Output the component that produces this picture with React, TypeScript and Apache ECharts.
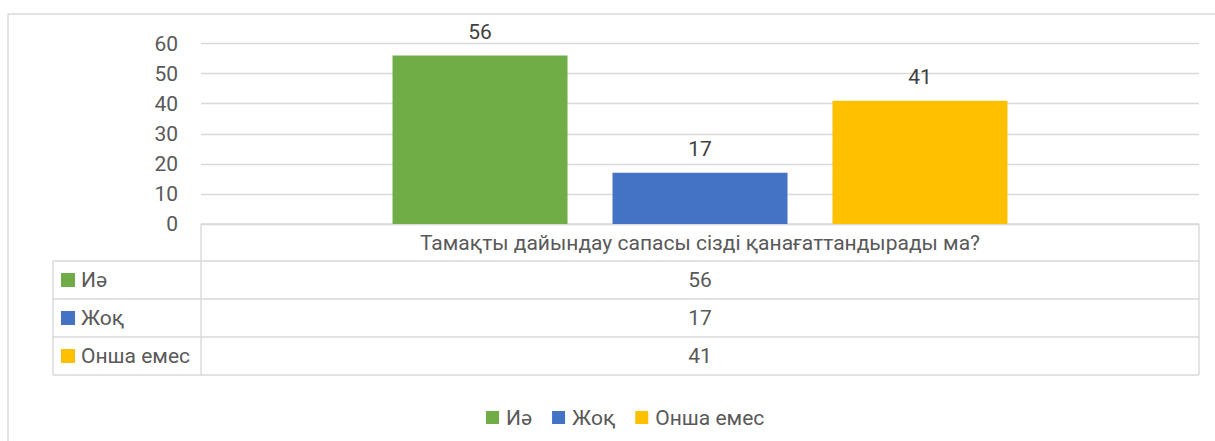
import React, { useEffect, useRef } from "react";
import * as echarts from "echarts";

const question = "Тамақты дайындау сапасы сізді қанағаттандырады ма?";
const seriesNames = ["Иә", "Жоқ", "Онша емес"];
const seriesValues = [56, 17, 41];
const seriesColors = ["#70AD47", "#4472C4", "#FFC000"];
const yTicks = { min: 0, max: 60, interval: 10 };

const FONT = "Roboto, 'Noto Sans', sans-serif";
const GRID_COLOR = "#d9d9d9";
const TEXT = "#595959";
const FS = 21;

export default function App() {
  const ref = useRef<HTMLDivElement>(null);
  useEffect(() => {
    if (!ref.current) return;
    const chart = echarts.init(ref.current, null, { renderer: "svg" });

    const tableLeft = 53;
    const splitX = 201;
    const right = 1199;
    const rowLines = [224, 261, 299, 337, 375];
    const lineStyle = { stroke: GRID_COLOR, lineWidth: 1.4 };

    const graphics: any[] = [
      {
        type: "rect",
        shape: { x: 8, y: 14, width: 1230, height: 460 },
        style: { fill: "none", stroke: GRID_COLOR, lineWidth: 1.4 },
        silent: true,
      },
      { type: "line", shape: { x1: splitX, y1: rowLines[0], x2: right, y2: rowLines[0] }, style: lineStyle },
      { type: "line", shape: { x1: splitX, y1: rowLines[0], x2: splitX, y2: rowLines[4] }, style: lineStyle },
      { type: "line", shape: { x1: right, y1: rowLines[0], x2: right, y2: rowLines[4] }, style: lineStyle },
      { type: "line", shape: { x1: tableLeft, y1: rowLines[1], x2: tableLeft, y2: rowLines[4] }, style: lineStyle },
    ];
    for (let i = 1; i < rowLines.length; i++) {
      graphics.push({
        type: "line",
        shape: { x1: tableLeft, y1: rowLines[i], x2: right, y2: rowLines[i] },
        style: lineStyle,
      });
    }
    seriesNames.forEach((name, i) => {
      const cy = (rowLines[i + 1] + rowLines[i + 2]) / 2;
      graphics.push({
        type: "rect",
        shape: { x: 61, y: cy - 7, width: 14, height: 14 },
        style: { fill: seriesColors[i] },
      });
      graphics.push({
        type: "text",
        x: 81,
        y: cy,
        style: {
          text: name,
          fill: TEXT,
          font: `${FS}px ${FONT}`,
          textVerticalAlign: "middle",
          verticalAlign: "middle",
        },
      });
      graphics.push({
        type: "text",
        x: (splitX + right) / 2,
        y: cy,
        style: {
          text: String(seriesValues[i]),
          fill: TEXT,
          font: `${FS}px ${FONT}`,
          align: "center",
          textAlign: "center",
          verticalAlign: "middle",
          textVerticalAlign: "middle",
        },
      });
    });

    chart.setOption({
      animation: false,
      textStyle: { fontFamily: FONT },
      grid: { left: 201, right: 16, top: 43.5, bottom: 217, containLabel: false },
      legend: {
        left: 481,
        top: 402,
        icon: "rect",
        itemWidth: 13,
        itemHeight: 13,
        itemGap: 20,
        data: seriesNames,
        textStyle: { color: TEXT, fontSize: FS, fontFamily: FONT, padding: [0, 0, 0, 2] },
      },
      xAxis: {
        type: "category",
        data: [question],
        axisLine: { show: false },
        axisTick: { show: false },
        axisLabel: { color: TEXT, fontSize: FS, margin: 8, fontFamily: FONT },
      },
      yAxis: {
        type: "value",
        min: yTicks.min,
        max: yTicks.max,
        interval: yTicks.interval,
        axisLine: { show: false },
        axisTick: { show: false },
        axisLabel: { color: TEXT, fontSize: FS, margin: 23, fontFamily: FONT },
        splitLine: { lineStyle: { color: GRID_COLOR, width: 1.3 } },
      },
      series: seriesNames.map((name, i) => ({
        type: "bar",
        name,
        data: [seriesValues[i]],
        barWidth: 175,
        barGap: "25.7%",
        itemStyle: { color: seriesColors[i] },
        label: {
          show: true,
          position: "top",
          distance: 13,
          color: "#404040",
          fontSize: FS,
          fontFamily: FONT,
        },
      })),
      graphic: graphics,
    });
    return () => chart.dispose();
  }, []);
  return (
    <div
      ref={ref}
      style={{ position: "fixed", left: 0, top: 0, width: 1215, height: 441, background: "#fff" }}
    />
  );
}
